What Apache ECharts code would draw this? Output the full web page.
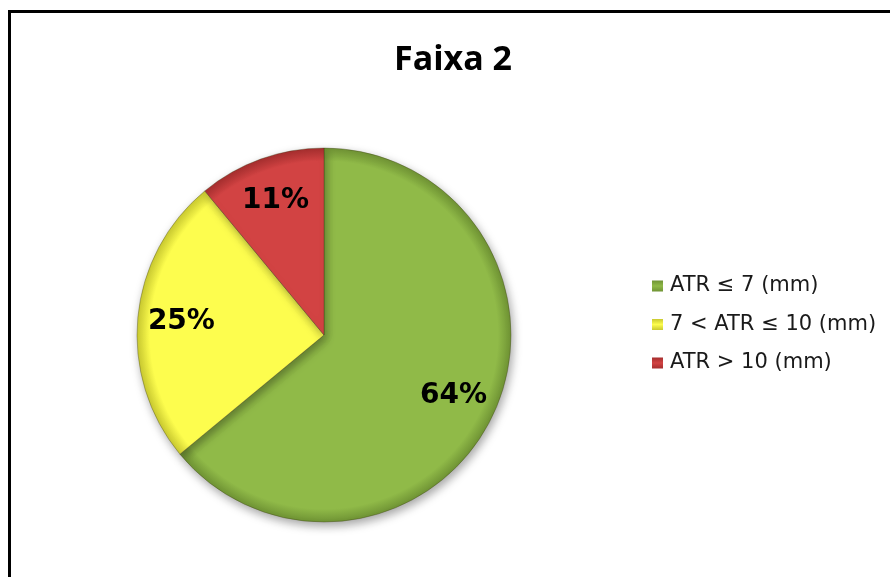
<!DOCTYPE html>
<html>
<head>
<meta charset="utf-8">
<script src="https://cdn.jsdelivr.net/npm/echarts@6/dist/echarts.min.js"></script>
<style>
html,body{margin:0;padding:0;background:#fff;}
#chart{width:890px;height:577px;}
</style>
</head>
<body>
<div id="chart"></div>
<script>
var titleText = 'Faixa 2';
var categories = ['ATR \u2264 7 (mm)', '7 < ATR \u2264 10 (mm)', 'ATR > 10 (mm)'];
var values = [64, 25, 11];
var baseColors = ['#90ba48', '#fdfd4e', '#d24343'];
var rimColors = ['#6f9334', '#c9c930', '#a52e2e'];

var CX = 324, CY = 335, R = 187;

function radial(i) {
  return {
    type: 'radial', x: CX, y: CY, r: R, global: true,
    colorStops: [
      {offset: 0, color: baseColors[i]},
      {offset: 0.93, color: baseColors[i]},
      {offset: 1, color: rimColors[i]}
    ]
  };
}
function linear(i) {
  return {
    type: 'linear', x: 0, y: 0, x2: 0, y2: 1,
    colorStops: [
      {offset: 0, color: rimColors[i]},
      {offset: 0.5, color: baseColors[i]},
      {offset: 1, color: rimColors[i]}
    ]
  };
}

var pieData = categories.map(function (c, i) {
  return {name: c, value: values[i], itemStyle: {color: radial(i)}};
});
var labelData = categories.map(function (c, i) {
  return {name: c, value: values[i]};
});

var chart = echarts.init(document.getElementById('chart'), null, {renderer: 'canvas'});
chart.setOption({
  backgroundColor: '#ffffff',
  animation: false,
  graphic: [{
    type: 'rect',
    shape: {x: 9.5, y: 11.5, width: 1000, height: 1000},
    style: {fill: 'none', stroke: '#000', lineWidth: 3},
    z: 100
  }],
  title: {
    text: titleText,
    left: 448, top: 38, textAlign: 'center',
    textStyle: {fontFamily: 'Open Sans', fontWeight: 'bold', fontSize: 34, color: '#000'}
  },
  legend: {
    orient: 'vertical',
    left: 647, top: 270.5,
    itemWidth: 11, itemHeight: 11, itemGap: 17.5,
    icon: 'rect',
    textStyle: {fontFamily: 'DejaVu Sans', fontSize: 21, color: '#1a1a1a', lineHeight: 21, padding: [0, 0, 0, 2]},
    data: categories.map(function (c, i) {
      return {name: c, itemStyle: {color: linear(i), borderWidth: 0}};
    })
  },
  series: [{
    type: 'pie',
    center: [CX, CY],
    radius: [0, R],
    startAngle: 90,
    clockwise: true,
    data: pieData,
    label: {show: false},
    labelLine: {show: false},
    itemStyle: {
      borderColor: 'rgba(60,60,20,0.35)', borderWidth: 1,
      shadowBlur: 10, shadowOffsetX: 2, shadowOffsetY: 4, shadowColor: 'rgba(0,0,0,0.35)'
    },
    emphasis: {disabled: true},
    silent: true
  }, {
    type: 'pie',
    center: [CX, CY],
    radius: [R * 0.5, R],
    startAngle: 90,
    clockwise: true,
    data: labelData,
    itemStyle: {color: 'rgba(0,0,0,0)'},
    label: {
      show: true, position: 'inside',
      formatter: '{c}%',
      fontFamily: 'DejaVu Sans', fontWeight: 'bold', fontSize: 28, color: '#000'
    },
    labelLine: {show: false},
    emphasis: {disabled: true},
    silent: true
  }]
});
</script>
</body>
</html>
